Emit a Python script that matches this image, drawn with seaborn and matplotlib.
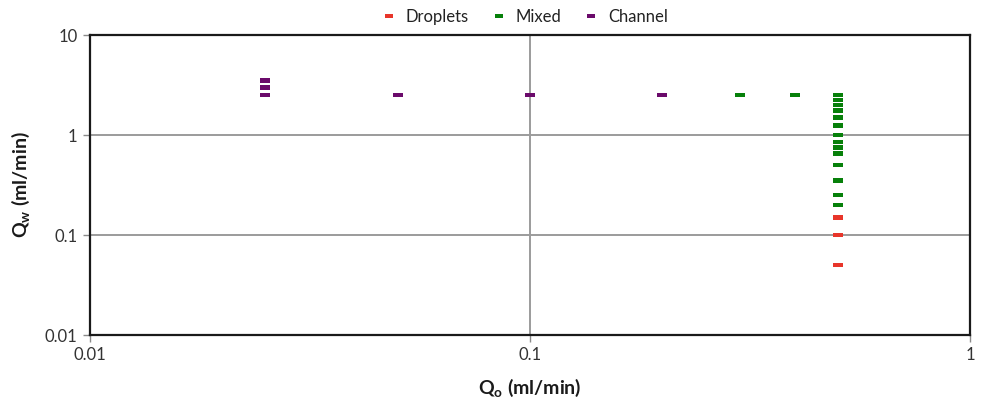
import matplotlib
matplotlib.use("Agg")
import matplotlib.pyplot as plt
import seaborn as sns
import pandas as pd
from matplotlib.ticker import FixedLocator, FixedFormatter, NullLocator

# Flow-regime map: oil flow rate (Qo) vs water flow rate (Qw)
droplets_qo = [0.5, 0.5, 0.5]
droplets_qw = [0.15, 0.1, 0.05]

mixed_qo = [0.3, 0.4] + [0.5] * 14
mixed_qw = [2.5, 2.5,
            2.5, 2.25, 2.0, 1.75, 1.5, 1.25, 1.0, 0.85, 0.75, 0.65, 0.5, 0.35, 0.25, 0.2]

channel_qo = [0.025, 0.025, 0.025, 0.05, 0.1, 0.2]
channel_qw = [3.5, 3.0, 2.5, 2.5, 2.5, 2.5]

regimes = ["Droplets", "Mixed", "Channel"]
regime_colors = ["#E8352A", "#07800A", "#6B0A6B"]

tick_values = [0.01, 0.1, 1, 10]
x_tick_labels = ["0.01", "0.1", "1"]
y_tick_labels = ["0.01", "0.1", "1", "10"]

df = pd.concat([
    pd.DataFrame({"Qo": droplets_qo, "Qw": droplets_qw, "regime": "Droplets"}),
    pd.DataFrame({"Qo": mixed_qo, "Qw": mixed_qw, "regime": "Mixed"}),
    pd.DataFrame({"Qo": channel_qo, "Qw": channel_qw, "regime": "Channel"}),
], ignore_index=True)

sns.set_theme(style="white")
plt.rcParams["font.family"] = ["Lato", "DejaVu Sans"]

fig = plt.figure(figsize=(9.83, 4.04), dpi=100)
ax = fig.add_axes([90 / 983, 69 / 404, 880 / 983, 300 / 404])

# short horizontal dash marker
dash = [(-1, -0.45), (1, -0.45), (1, 0.45), (-1, 0.45), (-1, -0.45)]

sns.scatterplot(data=df, x="Qo", y="Qw", hue="regime", hue_order=regimes,
                palette=regime_colors, marker=dash, s=52, linewidth=0,
                ax=ax, legend=False, zorder=3)

ax.set_xscale("log")
ax.set_yscale("log")
ax.set_xlim(0.01, 1)
ax.set_ylim(0.01, 10)

ax.xaxis.set_major_locator(FixedLocator(tick_values[:3]))
ax.xaxis.set_major_formatter(FixedFormatter(x_tick_labels))
ax.yaxis.set_major_locator(FixedLocator(tick_values))
ax.yaxis.set_major_formatter(FixedFormatter(y_tick_labels))
ax.xaxis.set_minor_locator(NullLocator())
ax.yaxis.set_minor_locator(NullLocator())

ax.grid(True, which="major", color="#9B9B9B", linewidth=1.4, zorder=0)
ax.set_axisbelow(True)
for sp in ax.spines.values():
    sp.set_color("#1a1a1a")
    sp.set_linewidth(1.6)
ax.spines["bottom"].set_zorder(4)
ax.tick_params(axis="both", which="major", direction="out", length=5, width=1,
               color="#8a8a8a", labelsize=12, labelcolor="#333333", pad=4,
               bottom=True, left=True)

ax.set_xlabel(r"Q$_\mathregular{o}$ (ml/min)", fontsize=14, fontweight="bold",
              color="#1a1a1a", labelpad=9)
ax.set_ylabel(r"Q$_\mathregular{w}$ (ml/min)", fontsize=14, fontweight="bold",
              color="#1a1a1a", labelpad=9)

handles = [plt.Line2D([], [], linestyle="none", marker=dash, markersize=5.5,
                      markerfacecolor=c, markeredgewidth=0) for c in regime_colors]
fig.legend(handles, regimes, loc="center", bbox_to_anchor=(525 / 983, 1 - 17 / 404),
           ncol=3, frameon=False, fontsize=12, handlelength=0.8,
           handletextpad=0.6, columnspacing=1.4, labelcolor="#222222")

fig.savefig("out.png", dpi=100)
